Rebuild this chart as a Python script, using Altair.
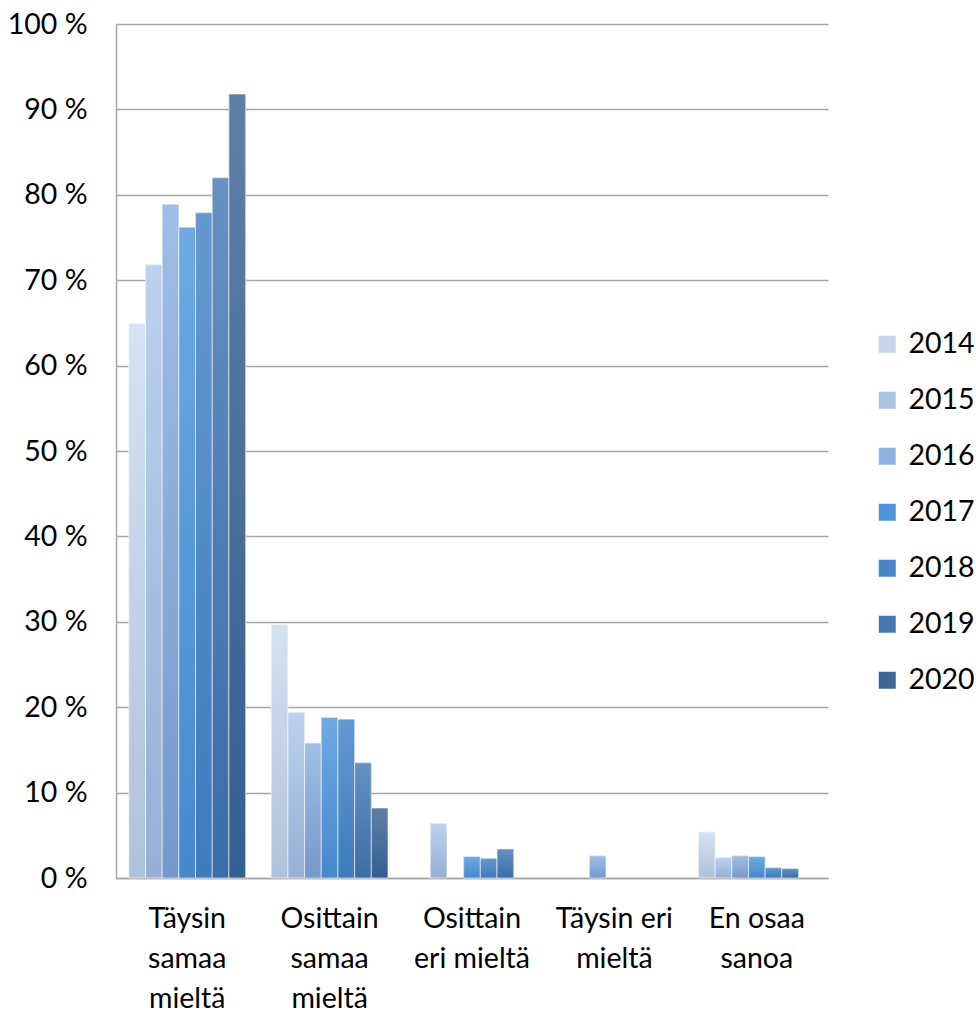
import altair as alt
import pandas as pd

category_lines = [
    ["Täysin", "samaa", "mieltä"],
    ["Osittain", "samaa", "mieltä"],
    ["Osittain", "eri mieltä"],
    ["Täysin eri", "mieltä"],
    ["En osaa", "sanoa"],
]
categories = [" ".join(l) for l in category_lines]
years = ["2014", "2015", "2016", "2017", "2018", "2019", "2020"]

v2014 = [64.9, 29.7, None, None, 5.4]
v2015 = [71.8, 19.4, 6.4, None, 2.4]
v2016 = [78.9, 15.8, None, 2.6, 2.6]
v2017 = [76.2, 18.8, 2.5, None, 2.5]
v2018 = [77.9, 18.6, 2.3, None, 1.2]
v2019 = [82.0, 13.5, 3.4, None, 1.1]
v2020 = [91.8, 8.2, None, None, None]
series = [v2014, v2015, v2016, v2017, v2018, v2019, v2020]

legend_colors = ["#c6d5ea", "#abc3e5", "#8fb2de", "#4f94d8", "#4a86c6", "#4678b2", "#3e6794"]
grad_top = ["#d5e2f2", "#bcd1ee", "#a0bfe7", "#6ea9e3", "#6598d0", "#6691c2", "#607fa6"]
grad_bot = ["#b0c1db", "#97afd5", "#7598cb", "#4689cb", "#3d7bbb", "#3a6ca5", "#335f8f"]

rows = []
for y, vals in zip(years, series):
    for c, v in zip(categories, vals):
        if v is not None:
            rows.append({"category": c, "year": y, "value": v})
df = pd.DataFrame(rows)

# multi-line label expression
expr = "datum.value"
for c, lines in reversed(list(zip(categories, category_lines))):
    arr = "[" + ",".join("'" + s + "'" for s in lines) + "]"
    expr = f"datum.value == '{c}' ? {arr} : ({expr})"

FONT = "Lato"
FS = 28.5

base = alt.Chart(df).encode(
    x=alt.X(
        "category:N",
        sort=categories,
        scale=alt.Scale(paddingInner=0.18, paddingOuter=0.09),
        axis=alt.Axis(
            title=None, labelAngle=0, ticks=False, labelPadding=26, grid=False,
            labelExpr=expr, labelFontSize=FS, labelFont=FONT, labelColor="#000000",
            labelLineHeight=40, domainColor="#a6a6a6", domainWidth=1.5,
            labelBaseline="top",
        ),
    ),
    xOffset=alt.XOffset("year:N", scale=alt.Scale(domain=years, paddingInner=0, paddingOuter=0)),
    y=alt.Y(
        "value:Q",
        scale=alt.Scale(domain=[0, 100], nice=False),
        axis=alt.Axis(
            title=None, values=list(range(0, 101, 10)), labelExpr="datum.value + ' %'",
            ticks=False, labelPadding=29, labelFontSize=FS, labelFont=FONT,
            labelColor="#000000", grid=True, gridColor="#a6a6a6", gridWidth=1.5,
            domainColor="#a6a6a6", domainWidth=1.5,
        ),
    ),
)

legend_layer = base.mark_bar().encode(
    color=alt.Color(
        "year:N",
        scale=alt.Scale(domain=years, range=legend_colors),
        legend=alt.Legend(
            title=None, orient="none", legendX=757, legendY=306,
            symbolType="square", symbolSize=289, symbolStrokeWidth=0,
            labelFontSize=FS, labelFont=FONT, labelColor="#000000",
            labelOffset=7, rowPadding=27, padding=0,
        ),
    )
)

layers = [legend_layer]
for y, t, b in zip(years, grad_top, grad_bot):
    layers.append(
        base.transform_filter(alt.datum.year == y).mark_bar(
            fill=alt.LinearGradient(
                gradient="linear",
                stops=[alt.GradientStop(color=t, offset=0), alt.GradientStop(color=b, offset=1)],
                x1=0, x2=0, y1=0, y2=1,
            ),
            stroke="#ffffff", strokeWidth=1, strokeOpacity=0.6,
        )
    )

chart = alt.layer(*layers).properties(
    width=712, height=854,
    background="#ffffff",
    autosize=alt.AutoSizeParams(type="none"),
    padding={"left": 116, "top": 24, "right": 148, "bottom": 146},
).configure_view(strokeWidth=0, stroke="transparent").configure_axisX(grid=False)

chart.save("out.html", embed_options={"renderer": "svg", "actions": False})
